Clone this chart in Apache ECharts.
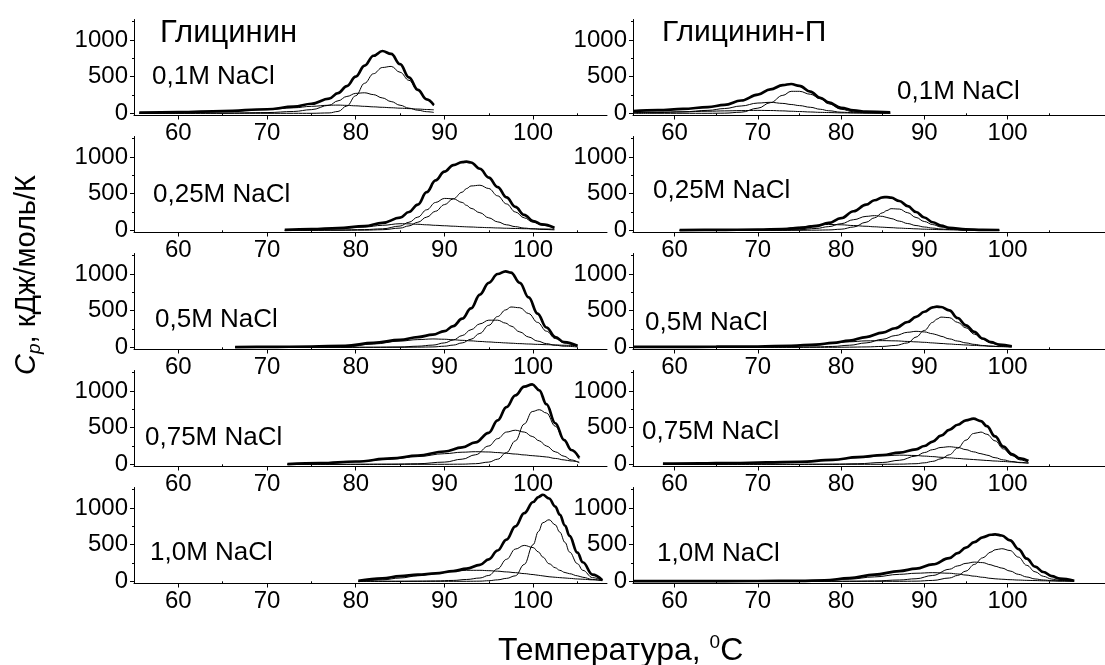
<!DOCTYPE html>
<html>
<head>
<meta charset="utf-8">
<script src="https://cdn.jsdelivr.net/npm/echarts@6/dist/echarts.min.js"></script>
<style>
  html, body { margin: 0; padding: 0; background: #fff; }
  #chart { width: 1105px; height: 665px; }
</style>
</head>
<body>
<div id="chart"></div>
<script>
// ---- Tick labels -------------------------------------------------------
const xMajorTicks = [60, 70, 80, 90, 100];
const xMinorTicks = [65, 75, 85, 95, 105];
const yMajorTicks = [0, 500, 1000];
const yMinorTicks = [250, 750, 1250];

// ---- Panel captions ----------------------------------------------------
const columnTitles = ['Глицинин', 'Глицинин-П'];
const saltLabels = ['0,1M NaCl', '0,25M NaCl', '0,5M NaCl', '0,75M NaCl', '1,0M NaCl'];

// ---- Глицинин, 0,1M NaCl ----------------------------------------------
const T_G01     = [55.6, 60, 65, 70, 73, 75, 77, 78, 79, 80, 81, 82, 83, 84, 85, 86, 87, 88, 88.8];
const total_G01 = [8, 15, 30, 55, 90, 130, 200, 275, 370, 500, 650, 785, 850, 810, 670, 490, 320, 190, 113];
const c1_G01    = [0, 0, 0, 0, 0, 0, 5, 25, 100, 240, 410, 540, 625, 640, 560, 450, 320, 190, 100];
const c2_G01    = [0, 1, 3, 10, 25, 50, 110, 170, 230, 272, 280, 255, 210, 160, 110, 70, 42, 22, 12];
const c3_G01    = [2, 10, 25, 50, 75, 95, 110, 112, 108, 102, 95, 88, 82, 76, 70, 64, 58, 52, 48];

// ---- Глицинин-П, 0,1M NaCl --------------------------------------------
const T_P01     = [55, 58, 61, 64, 66, 68, 70, 71.5, 73, 74, 75, 76.3, 77.5, 78.5, 80, 81.5, 83, 85.9];
const total_P01 = [31, 42, 60, 85, 115, 175, 255, 327, 385, 400, 375, 295, 210, 150, 75, 40, 22, 14];
const c1_P01    = [0, 0, 0, 0, 2, 15, 70, 145, 245, 300, 300, 260, 200, 130, 55, 20, 8, 2];
const c2_P01    = [5, 10, 20, 40, 65, 100, 140, 150, 135, 120, 105, 82, 55, 35, 15, 8, 5, 2];
const c3_P01    = [10, 15, 20, 28, 33, 37, 40, 38, 33, 28, 24, 18, 13, 10, 6, 4, 3, 2];

// ---- Глицинин, 0,25M NaCl ---------------------------------------------
const T_G025     = [72, 75, 78, 81, 83, 85, 86, 87, 88, 89, 90, 91, 92, 92.5, 93, 94, 95, 96, 97, 98, 99, 100, 101, 102.4];
const total_G025 = [5, 15, 30, 57, 100, 172, 250, 350, 520, 680, 800, 890, 930, 936, 925, 840, 720, 590, 450, 320, 210, 127, 80, 35];
const c1_G025    = [0, 0, 0, 2, 8, 30, 60, 110, 180, 260, 350, 430, 520, 570, 605, 615, 570, 470, 360, 250, 170, 110, 70, 32];
const c2_G025    = [0, 1, 5, 10, 20, 58, 110, 180, 280, 380, 435, 430, 380, 340, 300, 240, 170, 115, 75, 50, 30, 20, 12, 6];
const c3_G025    = [0, 10, 25, 45, 68, 90, 88, 82, 75, 68, 62, 56, 50, 47, 45, 40, 36, 32, 28, 25, 22, 20, 18, 15];

// ---- Глицинин-П, 0,25M NaCl -------------------------------------------
const T_P025     = [60.6, 65, 70, 73, 75, 77, 78.5, 80, 81.5, 83, 84, 85, 85.5, 86, 87, 88, 89, 90, 91, 92, 93, 95, 97, 99];
const total_P025 = [3, 5, 10, 15, 30, 58, 100, 165, 260, 350, 410, 450, 454, 445, 400, 330, 250, 175, 110, 65, 35, 12, 6, 4];
const c1_P025    = [0, 0, 0, 0, 0, 2, 5, 15, 45, 110, 170, 240, 270, 295, 290, 240, 175, 120, 78, 45, 25, 8, 3, 1];
const c2_P025    = [0, 0, 0, 2, 8, 25, 50, 90, 145, 190, 200, 190, 175, 160, 125, 92, 65, 45, 30, 18, 10, 4, 2, 1];
const c3_P025    = [0, 2, 10, 25, 45, 70, 80, 75, 65, 55, 48, 42, 39, 36, 30, 25, 20, 15, 12, 9, 7, 4, 2, 1];

// ---- Глицинин, 0,5M NaCl ----------------------------------------------
const T_G05     = [66.4, 70, 75, 78.8, 82, 85, 87, 88.7, 90, 91, 92, 93, 94, 95, 96, 96.9, 97.5, 98.5, 99.5, 100.5, 101.5, 102.5, 103.5, 105];
const total_G05 = [3, 5, 10, 20, 60, 100, 140, 173, 220, 290, 390, 530, 720, 880, 1000, 1037, 1020, 880, 680, 460, 270, 140, 70, 20];
const c1_G05    = [0, 0, 0, 0, 0, 0, 2, 5, 15, 30, 60, 110, 190, 300, 420, 510, 550, 540, 460, 340, 220, 120, 60, 15];
const c2_G05    = [0, 0, 0, 0, 1, 5, 15, 30, 60, 100, 160, 240, 320, 370, 370, 330, 290, 210, 140, 85, 50, 28, 15, 5];
const c3_G05    = [0, 0, 0, 5, 45, 85, 105, 114, 110, 103, 95, 88, 80, 73, 66, 60, 56, 50, 45, 40, 36, 32, 28, 22];

// ---- Глицинин-П, 0,5M NaCl --------------------------------------------
const T_P05     = [55, 60, 65, 70, 74, 77, 79, 81, 83, 85, 86.5, 88, 89, 90, 91, 91.5, 92, 93, 94, 95, 96, 97, 98, 99, 100.5];
const total_P05 = [5, 6, 8, 11, 20, 37, 60, 91, 140, 200, 260, 345, 415, 485, 545, 555, 550, 505, 400, 300, 210, 120, 70, 37, 15];
const c1_P05    = [0, 0, 0, 0, 0, 0, 0, 2, 5, 12, 25, 60, 140, 230, 340, 385, 412, 405, 340, 265, 180, 110, 60, 30, 10];
const c2_P05    = [0, 0, 0, 0, 1, 5, 12, 28, 60, 110, 160, 205, 218, 210, 185, 170, 150, 115, 85, 60, 40, 25, 15, 9, 4];
const c3_P05    = [0, 1, 3, 8, 20, 40, 58, 75, 88, 91, 88, 80, 74, 68, 60, 56, 52, 45, 38, 32, 26, 20, 15, 11, 7];

// ---- Глицинин, 0,75M NaCl ---------------------------------------------
const T_G075     = [72.3, 76, 80, 84, 87, 90, 92, 93.5, 95, 96, 97, 98, 99, 99.9, 100.7, 101.5, 102.5, 103.5, 104.3, 105.2];
const total_G075 = [3, 15, 38, 80, 120, 175, 230, 300, 430, 600, 780, 940, 1060, 1091, 1010, 820, 560, 330, 195, 90];
const c1_G075    = [0, 0, 0, 0, 0, 0, 2, 8, 30, 70, 160, 320, 550, 720, 745, 700, 520, 330, 200, 70];
const c2_G075    = [0, 0, 0, 2, 8, 30, 70, 130, 250, 350, 440, 465, 440, 380, 320, 250, 170, 110, 60, 20];
const c3_G075    = [0, 15, 35, 70, 105, 145, 165, 172, 168, 160, 150, 140, 128, 118, 110, 100, 80, 60, 45, 30];

// ---- Глицинин-П, 0,75M NaCl -------------------------------------------
const T_P075     = [58.6, 63, 67, 71, 75, 79, 82, 85, 87, 89, 90, 91, 92, 93, 94, 95, 95.9, 96.8, 97.5, 98.5, 99.5, 100.5, 101.5, 102.5];
const total_P075 = [8, 12, 18, 25, 35, 60, 98, 127, 160, 205, 250, 310, 390, 470, 540, 600, 623, 590, 520, 380, 240, 140, 80, 45];
const c1_P075    = [0, 0, 0, 0, 0, 0, 0, 0, 2, 8, 20, 40, 75, 130, 220, 330, 420, 440, 410, 320, 210, 120, 60, 25];
const c2_P075    = [0, 0, 0, 0, 0, 2, 8, 25, 55, 113, 160, 200, 230, 240, 230, 200, 170, 145, 125, 90, 60, 38, 22, 12];
const c3_P075    = [2, 5, 10, 18, 35, 60, 90, 115, 125, 120, 112, 105, 96, 88, 80, 72, 65, 58, 52, 45, 38, 32, 26, 20];

// ---- Глицинин, 1,0M NaCl ----------------------------------------------
const T_G10     = [80.3, 83, 85, 87, 89, 91, 92.5, 94, 95, 96, 97, 98, 99, 100, 100.6, 101.1, 101.8, 102.5, 103, 103.6, 104.1, 105, 105.6, 106.7, 107.8];
const total_G10 = [5, 40, 72, 90, 108, 140, 172, 225, 300, 420, 570, 750, 930, 1082, 1150, 1181, 1130, 1020, 910, 760, 620, 390, 260, 90, 14];
const c1_G10    = [0, 0, 0, 0, 0, 0, 0, 2, 8, 20, 40, 75, 230, 500, 680, 800, 840, 770, 672, 530, 400, 240, 150, 50, 14];
const c2_G10    = [0, 0, 0, 2, 5, 12, 25, 45, 80, 170, 300, 440, 490, 460, 400, 330, 240, 185, 150, 120, 104, 75, 55, 25, 8];
const c3_G10    = [0, 20, 45, 75, 105, 135, 150, 150, 145, 138, 128, 118, 105, 92, 82, 74, 62, 55, 50, 45, 40, 32, 28, 20, 12];

// ---- Глицинин-П, 1,0M NaCl --------------------------------------------
const T_P10     = [55, 62, 70, 75, 78, 81, 84, 87, 89, 91, 93, 94, 95, 96, 97, 98, 98.5, 99.3, 100.3, 101.3, 102.3, 103.3, 104.3, 105.3, 106.3, 108];
const total_P10 = [3, 3, 4, 5, 12, 43, 90, 140, 172, 230, 315, 385, 460, 535, 600, 635, 641, 625, 559, 440, 309, 200, 127, 70, 36, 8];
const c1_P10    = [0, 0, 0, 0, 0, 0, 0, 0, 2, 12, 45, 80, 140, 230, 320, 400, 430, 445, 420, 330, 218, 130, 68, 30, 12, 3];
const c2_P10    = [0, 0, 0, 0, 0, 1, 5, 18, 35, 80, 164, 210, 245, 262, 255, 225, 205, 181, 140, 95, 59, 32, 18, 9, 4, 1];
const c3_P10    = [0, 0, 1, 3, 10, 30, 60, 95, 110, 118, 110, 100, 85, 70, 55, 40, 34, 28, 22, 17, 13, 10, 7, 5, 4, 2];

// Each panel: column (0 = Глицинин, 1 = Глицинин-П), row (salt level),
// temperatures, the total heat-capacity curve and its deconvolution peaks.
const panels = [
  { col: 0, row: 0, T: T_G01,  total: total_G01,  peaks: [c1_G01,  c2_G01,  c3_G01]  },
  { col: 1, row: 0, T: T_P01,  total: total_P01,  peaks: [c1_P01,  c2_P01,  c3_P01]  },
  { col: 0, row: 1, T: T_G025, total: total_G025, peaks: [c1_G025, c2_G025, c3_G025] },
  { col: 1, row: 1, T: T_P025, total: total_P025, peaks: [c1_P025, c2_P025, c3_P025] },
  { col: 0, row: 2, T: T_G05,  total: total_G05,  peaks: [c1_G05,  c2_G05,  c3_G05]  },
  { col: 1, row: 2, T: T_P05,  total: total_P05,  peaks: [c1_P05,  c2_P05,  c3_P05]  },
  { col: 0, row: 3, T: T_G075, total: total_G075, peaks: [c1_G075, c2_G075, c3_G075] },
  { col: 1, row: 3, T: T_P075, total: total_P075, peaks: [c1_P075, c2_P075, c3_P075] },
  { col: 0, row: 4, T: T_G10,  total: total_G10,  peaks: [c1_G10,  c2_G10,  c3_G10]  },
  { col: 1, row: 4, T: T_P10,  total: total_P10,  peaks: [c1_P10,  c2_P10,  c3_P10]  }
];

// ---- Layout --------------------------------------------------------------
const FONT = '"Liberation Sans", Arial, sans-serif';
const colLeft  = [134, 633];
const colWidth = [473, 472];
const colXMax  = [108.33, 111.7];
const rowBottom = [115.5, 232.5, 349.5, 466.5, 583.5];
const panelHeight = 96;
const yMin = -30, yMax = 1280;

const saltPos = [
  [[152, 77], [897, 92]],
  [[153, 195], [653, 191]],
  [[155, 320], [645, 323]],
  [[145, 438], [642, 432]],
  [[150, 553], [657, 554]]
];

const zip = (xs, ys) => xs.map((x, i) => [x, ys[i]]);

const grids = [], xAxes = [], yAxes = [], series = [];
panels.forEach((p, i) => {
  grids.push({
    left: colLeft[p.col], width: colWidth[p.col],
    top: rowBottom[p.row] - panelHeight, height: panelHeight,
    containLabel: false, outerBoundsMode: 'none'
  });
  const axisLine = { show: true, onZero: false, lineStyle: { color: '#000', width: 1 } };
  const labelStyle = { color: '#000', fontSize: 24, fontFamily: FONT, formatter: v => String(v) };
  // main axes
  xAxes.push({
    type: 'value', gridIndex: i, position: 'bottom', min: 55, max: colXMax[p.col],
    axisLine,
    axisTick: { show: true, customValues: xMajorTicks, length: 4, lineStyle: { color: '#000' } },
    axisLabel: Object.assign({ customValues: xMajorTicks, margin: 6 }, labelStyle),
    splitLine: { show: false }
  });
  yAxes.push({
    type: 'value', gridIndex: i, position: 'left', min: yMin, max: yMax,
    axisLine,
    axisTick: { show: true, customValues: yMajorTicks, length: 4, lineStyle: { color: '#000' } },
    axisLabel: Object.assign({ customValues: yMajorTicks, margin: 6 }, labelStyle),
    splitLine: { show: false }
  });
  // overlay axes carrying the short minor ticks
  xAxes.push({
    type: 'value', gridIndex: i, position: 'bottom', min: 55, max: colXMax[p.col],
    axisLine: { show: false },
    axisTick: { show: true, customValues: xMinorTicks, length: 2, lineStyle: { color: '#000' } },
    axisLabel: { show: false }, splitLine: { show: false }
  });
  yAxes.push({
    type: 'value', gridIndex: i, position: 'left', min: yMin, max: yMax,
    axisLine: { show: false },
    axisTick: { show: true, customValues: yMinorTicks, length: 2, lineStyle: { color: '#000' } },
    axisLabel: { show: false }, splitLine: { show: false }
  });

  const base = {
    type: 'line', xAxisIndex: 2 * i, yAxisIndex: 2 * i,
    showSymbol: false, symbol: 'none', smooth: 0.4, smoothMonotone: 'x',
    silent: true, animation: false
  };
  p.peaks.forEach(vals => {
    series.push(Object.assign({}, base, {
      data: zip(p.T, vals),
      lineStyle: { color: '#000', width: 1 }, z: 2
    }));
  });
  series.push(Object.assign({}, base, {
    data: zip(p.T, p.total),
    lineStyle: { color: '#000', width: 2.7 }, z: 3
  }));
});

// ---- Text ----------------------------------------------------------------
const graphic = [];
graphic.push({ type: 'text', x: 160, y: 33, style: { text: columnTitles[0], font: '31px ' + FONT, fill: '#000', align: 'left', verticalAlign: 'middle' } });
graphic.push({ type: 'text', x: 662, y: 33, style: { text: columnTitles[1], font: '30px ' + FONT, fill: '#000', align: 'left', verticalAlign: 'middle' } });
saltLabels.forEach((s, r) => {
  [0, 1].forEach(c => {
    const [x, y] = saltPos[r][c];
    graphic.push({ type: 'text', x, y, style: { text: s, font: '26px ' + FONT, fill: '#000', align: 'left', verticalAlign: 'middle' } });
  });
});
// x-axis title with superscript degree mark
graphic.push({
  type: 'text', x: 498, y: 651,
  style: {
    text: '{a|Температура, }{s|0}{a|C}',
    align: 'left', verticalAlign: 'middle',
    rich: {
      a: { fontSize: 32, fontFamily: FONT, fill: '#000', lineHeight: 36 },
      s: { fontSize: 19, fontFamily: FONT, fill: '#000', lineHeight: 36, verticalAlign: 'top' }
    }
  }
});
// y-axis title, rotated, with italic C and subscript p
graphic.push({
  type: 'text', x: 27, y: 275, rotation: Math.PI / 2,
  style: {
    text: '{i|C}{p|p}{a|, кДж/моль/К}',
    align: 'center', verticalAlign: 'middle',
    rich: {
      i: { fontSize: 29, fontFamily: FONT, fontStyle: 'italic', fill: '#000', lineHeight: 34 },
      p: { fontSize: 19, fontFamily: FONT, fontStyle: 'italic', fill: '#000', lineHeight: 34, verticalAlign: 'bottom' },
      a: { fontSize: 29, fontFamily: FONT, fill: '#000', lineHeight: 34 }
    }
  }
});

const chart = echarts.init(document.getElementById('chart'), null, { renderer: 'canvas' });
chart.setOption({
  backgroundColor: '#fff',
  animation: false,
  grid: grids,
  xAxis: xAxes,
  yAxis: yAxes,
  series,
  graphic
});
</script>
</body>
</html>
